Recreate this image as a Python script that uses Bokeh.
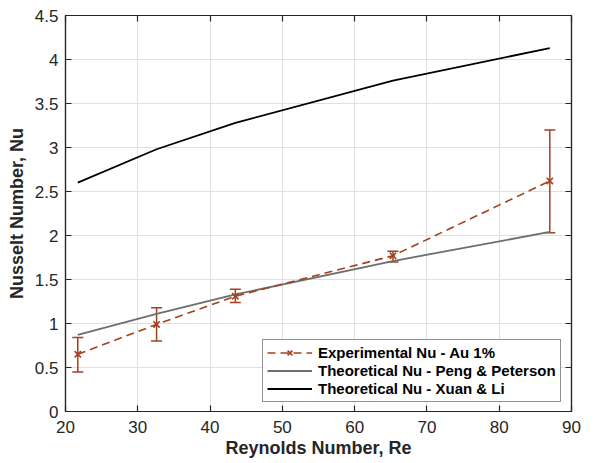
from bokeh.plotting import figure
from bokeh.models import (ColumnDataSource, Whisker, TeeHead, FixedTicker,
                          LinearAxis, Legend, LegendItem, Range1d)
from bokeh.embed import file_html
from bokeh.resources import INLINE

# ---- data ----
re_vals = [21.7, 32.6, 43.5, 65.3, 87.0]
nu_exp = [0.65, 0.99, 1.31, 1.77, 2.62]
nu_exp_lower = [0.45, 0.80, 1.24, 1.70, 2.03]
nu_exp_upper = [0.84, 1.18, 1.39, 1.82, 3.20]
nu_peng = [0.87, 1.11, 1.33, 1.71, 2.04]
nu_xuan = [2.60, 2.98, 3.28, 3.76, 4.13]

x_ticks = [20, 30, 40, 50, 60, 70, 80, 90]
x_tick_labels = ["20", "30", "40", "50", "60", "70", "80", "90"]
y_ticks = [0, 0.5, 1, 1.5, 2, 2.5, 3, 3.5, 4, 4.5]
y_tick_labels = ["0", "0.5", "1", "1.5", "2", "2.5", "3", "3.5", "4", "4.5"]

labels = ["Experimental Nu - Au 1%",
          "Theoretical Nu - Peng & Peterson",
          "Theoretical Nu - Xuan & Li"]

EXP_COLOR = "#a2421c"
AX_COLOR = "#262626"
FONT = "Liberation Sans"

src = ColumnDataSource(dict(re=re_vals, nu=nu_exp, lo=nu_exp_lower,
                            hi=nu_exp_upper, peng=nu_peng, xuan=nu_xuan))

p = figure(width=583, height=461, x_range=Range1d(20, 90), y_range=Range1d(0, 4.5),
           output_backend="svg", toolbar_location=None,
           min_border_left=65, min_border_right=12, min_border_top=15,
           min_border_bottom=50, background_fill_color="white",
           border_fill_color="white")
p.outline_line_color = AX_COLOR
p.outline_line_width = 1.2

# grids
p.xgrid.ticker = FixedTicker(ticks=x_ticks)
p.ygrid.ticker = FixedTicker(ticks=y_ticks)
for g in (p.xgrid, p.ygrid):
    g.grid_line_color = "#dfdfdf"
    g.grid_line_width = 1

def style_axis(ax, ticks, tick_labels, show_labels=True):
    ax.ticker = FixedTicker(ticks=ticks)
    ax.major_label_overrides = {t: (l if show_labels else "") for t, l in zip(ticks, tick_labels)}
    ax.major_tick_in = 6
    ax.major_tick_out = 0
    ax.minor_tick_line_color = None
    ax.axis_line_color = AX_COLOR
    ax.axis_line_width = 1.2
    ax.major_tick_line_color = AX_COLOR
    ax.major_tick_line_width = 1.2
    ax.major_label_text_font = FONT
    ax.major_label_text_font_size = "17px"
    ax.major_label_text_color = AX_COLOR
    ax.axis_label_text_font = FONT
    ax.axis_label_text_font_size = "18px"
    ax.axis_label_text_font_style = "bold"
    ax.axis_label_text_color = AX_COLOR

style_axis(p.xaxis[0], x_ticks, x_tick_labels)
style_axis(p.yaxis[0], y_ticks, y_tick_labels)
p.xaxis[0].axis_label = "Reynolds Number, Re"
p.yaxis[0].axis_label = "Nusselt Number, Nu"
p.xaxis[0].major_label_standoff = 9
p.xaxis[0].axis_label_standoff = 2
p.yaxis[0].major_label_standoff = 7
p.yaxis[0].axis_label_standoff = 5

top_ax = LinearAxis()
right_ax = LinearAxis()
style_axis(top_ax, x_ticks, x_tick_labels, show_labels=False)
style_axis(right_ax, y_ticks, y_tick_labels, show_labels=False)
for ax in (top_ax, right_ax):
    ax.major_label_text_font_size = "1px"
    ax.major_label_standoff = 0
p.add_layout(top_ax, "above")
p.add_layout(right_ax, "right")

# lines
r_xuan = p.line("re", "xuan", source=src, line_color="black", line_width=1.8)
r_peng = p.line("re", "peng", source=src, line_color="#6e6e6e", line_width=1.8)

whisk = Whisker(source=src, base="re", lower="lo", upper="hi", dimension="height",
                line_color=EXP_COLOR, line_width=1.5,
                upper_head=TeeHead(size=11, line_color=EXP_COLOR, line_width=1.5),
                lower_head=TeeHead(size=11, line_color=EXP_COLOR, line_width=1.5))
p.add_layout(whisk)
r_exp_line = p.line("re", "nu", source=src, line_color=EXP_COLOR, line_width=1.6,
                    line_dash="8 5")
r_exp_pts = p.scatter("re", "nu", source=src, marker="x", size=9,
                      line_color=EXP_COLOR, line_width=1.6)
# legend-only glyph representing the error bar
r_err_leg = p.scatter(x=[], y=[], marker="dash", angle=1.5708, size=14,
                      line_color=EXP_COLOR, line_width=1.5)

legend = Legend(items=[
    LegendItem(label=labels[0], renderers=[r_exp_line, r_err_leg, r_exp_pts]),
    LegendItem(label=labels[1], renderers=[r_peng]),
    LegendItem(label=labels[2], renderers=[r_xuan]),
], location=(197, 9))
legend.label_text_font = FONT
legend.label_text_font_size = "15px"
legend.label_text_font_style = "bold"
legend.label_text_color = "black"
legend.label_height = 17
legend.glyph_height = 17
legend.glyph_width = 45
legend.label_standoff = 6
legend.padding = 4
legend.spacing = 1
legend.margin = 0
legend.border_line_color = AX_COLOR
legend.border_line_width = 1.2
legend.background_fill_color = "white"
legend.background_fill_alpha = 1
p.add_layout(legend, "center")

open("out.html", "w").write(file_html(p, INLINE))
